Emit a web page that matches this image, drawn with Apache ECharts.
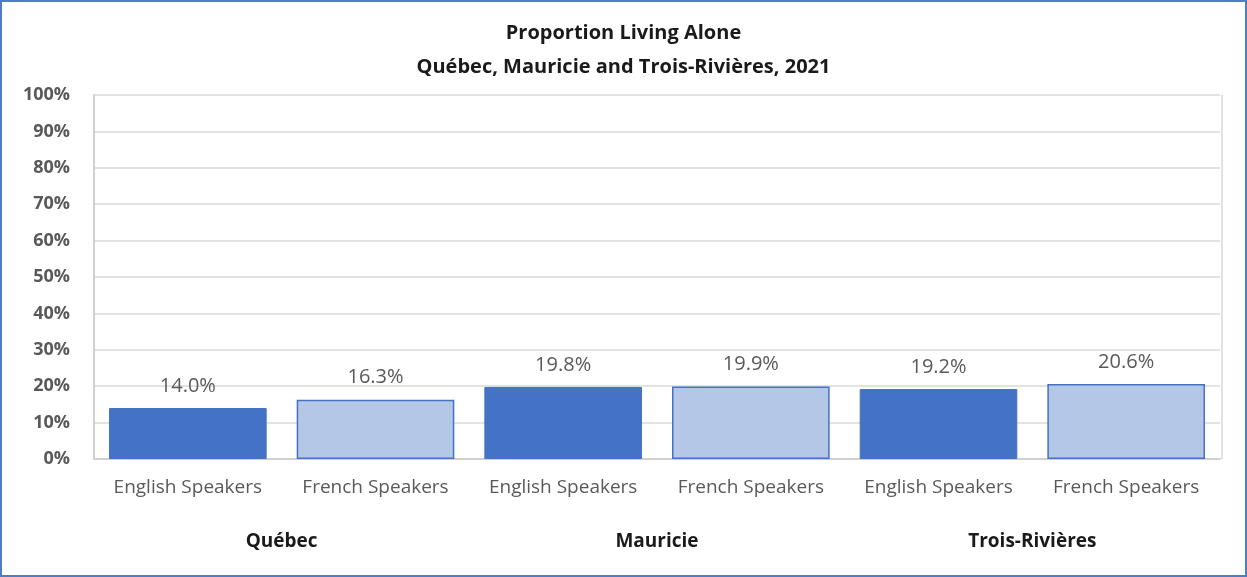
<!DOCTYPE html>
<html>
<head>
<meta charset="utf-8">
<script src="https://cdn.jsdelivr.net/npm/echarts@6/dist/echarts.min.js"></script>
<style>
  html, body { margin: 0; padding: 0; background: #fff; }
  #chart { width: 1247px; height: 577px; box-sizing: border-box; border: 2px solid #4f7cc9; }
</style>
</head>
<body>
<div id="chart"></div>
<script>
var categories = ['English Speakers', 'French Speakers', 'English Speakers', 'French Speakers', 'English Speakers', 'French Speakers'];
var groups = ['Québec', 'Mauricie', 'Trois-Rivières'];
var values = [14.0, 16.3, 19.8, 19.9, 19.2, 20.6];
var yTicks = [0, 10, 20, 30, 40, 50, 60, 70, 80, 90, 100];

var font = '"Open Sans", "Noto Sans", sans-serif';
var dark = '#4472C4';
var light = '#B4C7E7';

var myChart = echarts.init(document.getElementById('chart'));

var option = {
  animation: false,
  title: {
    text: 'Proportion Living Alone\nQuébec, Mauricie and Trois-Rivières, 2021',
    left: 'center',
    top: 9,
    textStyle: { fontFamily: font, fontSize: 20, fontWeight: 'bold', color: '#1a1a1a', lineHeight: 34 }
  },
  grid: { left: 92, right: 25, top: 93, bottom: 116, containLabel: false },
  xAxis: [
    {
      type: 'category',
      data: categories,
      axisLine: { lineStyle: { color: '#d0d0d0', width: 2 } },
      axisTick: { show: false },
      axisLabel: { fontFamily: font, fontSize: 19, color: '#595959', margin: 19, interval: 0 }
    },
    {
      type: 'category',
      data: groups,
      position: 'bottom',
      offset: 65,
      axisLine: { show: false },
      axisTick: { show: false },
      axisLabel: { fontFamily: font, fontSize: 19, fontWeight: 'bold', color: '#1a1a1a', interval: 0 }
    }
  ],
  yAxis: {
    type: 'value',
    min: yTicks[0],
    max: yTicks[yTicks.length - 1],
    interval: 10,
    axisLine: { show: true, lineStyle: { color: '#d0d0d0', width: 2 } },
    axisTick: { show: false },
    axisLabel: { fontFamily: font, fontSize: 18, fontWeight: 'bold', color: '#595959', margin: 24, formatter: '{value}%' },
    splitLine: { lineStyle: { color: '#d9d9d9', width: 1.5 } }
  },
  series: [
    {
      type: 'bar',
      xAxisIndex: 0,
      barCategoryGap: '16%',
      data: values.map(function (v, i) {
        return {
          value: v,
          itemStyle: i % 2 === 0
            ? { color: dark, borderColor: dark, borderWidth: 1 }
            : { color: light, borderColor: dark, borderWidth: 1.5 }
        };
      }),
      label: {
        show: true,
        position: 'top',
        distance: 12,
        fontFamily: font,
        fontSize: 20,
        color: '#595959',
        formatter: function (p) { return p.value.toFixed(1) + '%'; }
      }
    }
  ],
  graphic: [{
    type: 'line',
    shape: { x1: 1247 - 25 - 2, y1: 93, x2: 1247 - 25 - 2, y2: 577 - 116 - 4 },
    style: { stroke: '#d9d9d9', lineWidth: 1.5 },
    silent: true
  }]
};

myChart.setOption(option);
</script>
</body>
</html>
